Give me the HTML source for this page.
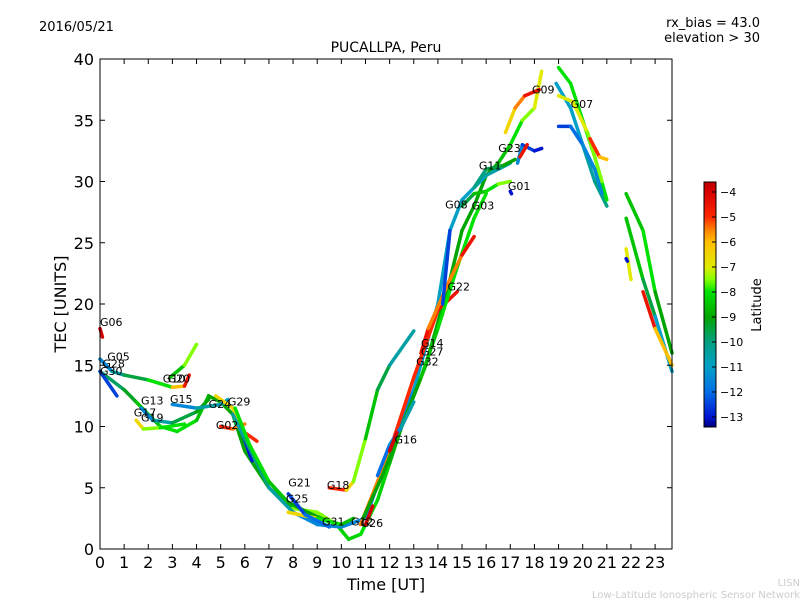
<!DOCTYPE html>
<html><head><meta charset="utf-8"><style>
body{margin:0;background:#fff;font-family:"DejaVu Sans","Liberation Sans",sans-serif}
</style></head><body>
<svg id="c" width="800" height="600" xmlns="http://www.w3.org/2000/svg">
<defs><linearGradient id="jet" x1="0" y1="1" x2="0" y2="0"></linearGradient></defs>
<text x="39" y="31" font-size="13">2016/05/21</text>
<text x="760" y="27" font-size="13" text-anchor="end">rx_bias = 43.0</text>
<text x="760" y="42" font-size="13" text-anchor="end">elevation &gt; 30</text>
<text x="386" y="52" font-size="14" text-anchor="middle">PUCALLPA, Peru</text>
<g id="marks"></g>
<rect x="100" y="59" width="572" height="490" fill="none" stroke="#000"/>
<g id="axes"></g>
<text x="386" y="590" font-size="16" text-anchor="middle">Time [UT]</text>
<text transform="translate(66,304) rotate(-90)" font-size="16" text-anchor="middle">TEC [UNITS]</text>
<rect x="704" y="182" width="12" height="245" fill="url(#jet)" stroke="#000"/>
<g id="cbt"></g>
<text transform="translate(761,305) rotate(-90)" font-size="13" text-anchor="middle">Latitude</text>
<text x="800" y="586" font-size="10" fill="#ccc" text-anchor="end">LISN</text>
<text x="800" y="598" font-size="10" fill="#ccc" text-anchor="end">Low-Latitude Ionospheric Sensor Network</text>
</svg>
<script>
const xTicks=[0,1,2,3,4,5,6,7,8,9,10,11,12,13,14,15,16,17,18,19,20,21,22,23];
const yTicks=[0,5,10,15,20,25,30,35,40];
const cbTicks=[-4,-5,-6,-7,-8,-9,-10,-11,-12,-13];
const tracks=[
[[0,14.5,-10],[1,13,-9.5],[1.5,12,-9],[2.5,10,-8],[3.2,9.6,-8],[4,10.5,-8],[4.5,12.5,-9],[5,12,-9],[5.5,11,-9],[6,8,-9],[7,5,-9],[8,3.3,-8],[9,3,-7],[9.8,2,-8],[10.3,0.8,-8.5],[10.8,1.2,-8],[11.5,4,-8],[12,7,-8.5],[12.5,10,-9],[13.5,15,-9],[14.5,22,-9],[15,26,-9],[15.5,28,-9],[16,30.5,-9],[16.5,31.5,-9],[17,33,-8],[17.5,35,-8],[18,36,-7],[18.3,39,-7]],
[[0,15.5,-12],[0.5,14.5,-11],[1,14.2,-10],[2,13.8,-9],[3,13.2,-7],[3.5,13.3,-5],[3.7,14.2,-4]],
[[0,18,-4],[0.1,17.3,-4]],
[[0,14.5,-12],[0.7,12.5,-13]],
[[1.5,10.5,-6],[1.8,9.8,-7],[2.5,9.9,-8],[3.5,10.2,-8]],
[[1.7,11.5,-12],[2.2,10.5,-11],[3,10.3,-10],[4,11.2,-9],[4.5,12.2,-9]],
[[2.9,14,-9],[3.5,15,-8],[4,16.7,-7]],
[[3,11.8,-12],[4,11.5,-11],[5,11.8,-10],[5.3,12.2,-12]],
[[4.8,12.5,-6],[5.5,11.5,-7],[6,9.5,-6],[6.5,8.8,-4]],
[[5,10,-5],[5.5,9.8,-5],[6,10.2,-6]],
[[5.8,10,-13],[6.3,7.2,-13]],
[[5.5,11,-11],[6,9,-10],[7,5,-10],[8,3,-11],[9,2,-12],[10,1.8,-11],[11,2.5,-12],[12,8,-12],[13,13,-11],[14,20,-11],[14.5,26,-11],[15,28.5,-11],[16,30.5,-11],[17,31.5,-10]],
[[5.6,11.5,-8],[6.2,8.5,-8],[7,5.5,-8],[7.8,3.8,-9],[8.6,3,-9],[9.5,2.2,-9]],
[[7.8,3,-6],[9,2.5,-7],[10,2,-9],[10.5,2.5,-8]],
[[7.8,4.5,-13],[8.5,2.8,-12],[9.5,1.8,-12]],
[[9.5,5,-4],[10.2,4.8,-6],[10.5,5.5,-7],[11,9,-8],[11.5,13,-9],[12,15,-10],[13,17.8,-11]],
[[10.8,2,-6],[12,8,-5],[13,14,-5],[14,19.5,-5],[14.8,21,-4]],
[[10.9,2.5,-9],[11.7,6,-9],[12.5,10,-9],[13.3,14,-9],[14,18,-8],[14.8,23,-8],[15.5,27,-8],[16,29,-8]],
[[11,2,-4],[11.3,3.5,-4]],
[[11.5,6,-12],[12,8.5,-12],[12.5,10,-11],[13,12,-10]],
[[12,8,-4],[12.3,9.5,-4]],
[[13.3,16,-4],[13.6,18,-5],[14.5,22,-6],[15,24,-5],[15.5,25.5,-4]],
[[14.2,20,-13],[14.5,26,-12]],
[[15,28,-10],[15.5,29,-9],[16,29.2,-8],[16.5,29.8,-8],[17,30,-7]],
[[15.5,29.5,-10],[16,31,-10],[16.7,31.3,-9],[17.2,31.8,-9]],
[[17.3,31.5,-11],[17.5,33,-12],[18,32.5,-13],[18.3,32.7,-13]],
[[17,29.2,-13],[17.05,29,-13]],
[[16.8,34,-7],[17.2,36,-6],[17.6,37,-5],[18.2,37.5,-4]],
[[17.4,32,-4],[17.7,33,-5]],
[[18.9,38,-11],[19.5,36,-11],[20,33,-11],[20.5,30,-10],[21,28,-10]],
[[19,39.3,-8],[19.5,38,-8],[20,35,-8],[20.5,32,-8],[21,28.5,-8]],
[[19,37,-7],[19.6,36.5,-7],[20.2,34,-7],[20.8,30,-8]],
[[19,34.5,-13],[19.5,34.5,-12],[20,33,-12],[20.5,31,-11],[20.8,29,-12]],
[[20.3,33.5,-4],[20.7,32,-6],[21,31.8,-6]],
[[21.8,29,-9],[22.5,26,-8],[23,21,-8],[23.7,16,-10]],
[[21.8,27,-8],[22.5,22,-9],[23,19,-10],[23.7,14.5,-12]],
[[22.5,21,-4],[23,18,-5],[23.7,15,-7]],
[[21.8,24.5,-7],[22,22,-7]],
[[21.8,23.7,-13],[21.85,23.5,-13]]
];
const labels=[["G06",0,18.2],["G05",0.3,15.4],["G28",0.1,14.8],["G30",0,14.2],["G13",1.7,11.8],["G17",1.4,10.8],["G19",1.7,10.4],["G10",2.6,13.6],["G20",2.8,13.6],["G15",2.9,11.9],["G24",4.5,11.5],["G29",5.3,11.7],["G02",4.8,9.8],["G21",7.8,5.1],["G25",7.7,3.8],["G18",9.4,4.9],["G31",9.2,1.9],["G12",10.4,1.9],["G26",10.8,1.8],["G16",12.2,8.6],["G14",13.3,16.5],["G27",13.3,15.8],["G32",13.1,15],["G22",14.4,21.1],["G08",14.3,27.8],["G03",15.4,27.7],["G01",16.9,29.3],["G11",15.7,31],["G23",16.5,32.4],["G09",17.9,37.2],["G07",19.5,36]];
const NS="http://www.w3.org/2000/svg";
const X0=100,X1=672,T1=23.7,Y0=549,Y1=59;
function sx(t){return X0+t*(X1-X0)/T1}
function sy(v){return Y0-v*(Y0-Y1)/40}
const LMIN=-13.4,LMAX=-3.6;
const cmap=[[-13.4,[0,0,128]],[-13,[0,20,210]],[-12,[0,110,230]],[-11,[0,160,200]],[-10,[0,160,130]],[-9,[0,165,0]],[-8,[0,225,0]],[-7.5,[130,255,0]],[-7,[225,235,0]],[-6,[255,190,0]],[-5.5,[255,128,0]],[-5,[255,40,0]],[-4,[215,0,0]],[-3.6,[190,0,0]]];
function jet(l){l=Math.max(LMIN,Math.min(LMAX,l));
 for(let i=0;i<cmap.length-1;i++){const a=cmap[i],b=cmap[i+1];
  if(l<=b[0]){const f=(l-a[0])/(b[0]-a[0]);const c=a[1].map((v,k)=>Math.round(v+(b[1][k]-v)*f));return `rgb(${c})`;}}
 return 'rgb(190,0,0)';}
function mk(tag,a){const e=document.createElementNS(NS,tag);for(const k in a)e.setAttribute(k,a[k]);return e}
const grad=document.getElementById('jet');
cmap.forEach(s=>grad.appendChild(mk('stop',{offset:(s[0]-LMIN)/(LMAX-LMIN),'stop-color':`rgb(${s[1]})`})));
const marks=document.getElementById('marks'),axes=document.getElementById('axes');
tracks.forEach((tr,i)=>{for(let j=0;j<tr.length-1;j++){
 const p=tr[j],q=tr[j+1];
 const l=mk('line',{x1:sx(p[0]),y1:sy(p[1]),x2:sx(q[0]),y2:sy(q[1]),stroke:jet((p[2]+q[2])/2),'stroke-width':3.5,'stroke-linecap':'round'});
 
 
 marks.appendChild(l);}
});
labels.forEach(L=>{const t=mk('text',{x:sx(L[1]),y:sy(L[2]),'font-size':11});t.textContent=L[0];
 
 
 marks.appendChild(t);});
xTicks.forEach(v=>{const x=sx(v);
 axes.appendChild(mk('line',{x1:x,y1:Y0,x2:x,y2:Y0-5,stroke:'#000'}));
 axes.appendChild(mk('line',{x1:x,y1:Y1,x2:x,y2:Y1+5,stroke:'#000'}));
 const t=mk('text',{x:x,y:568,'font-size':16,'text-anchor':'middle'});t.textContent=v;
 
 
 axes.appendChild(t);});
yTicks.forEach(v=>{const y=sy(v);
 axes.appendChild(mk('line',{x1:X0,y1:y,x2:X0+5,y2:y,stroke:'#000'}));
 axes.appendChild(mk('line',{x1:X1,y1:y,x2:X1-5,y2:y,stroke:'#000'}));
 const t=mk('text',{x:94,y:y+6,'font-size':16,'text-anchor':'end'});t.textContent=v;
 
 
 axes.appendChild(t);});
const cb=document.getElementById('cbt');
cbTicks.forEach(v=>{const y=182+245*(LMAX-v)/(LMAX-LMIN);
 cb.appendChild(mk('line',{x1:716,y1:y,x2:712,y2:y,stroke:'#000'}));
 const t=mk('text',{x:720,y:y+4,'font-size':11});t.textContent='\u2212'+Math.abs(v);
 
 
 cb.appendChild(t);});
</script>
</body></html>
